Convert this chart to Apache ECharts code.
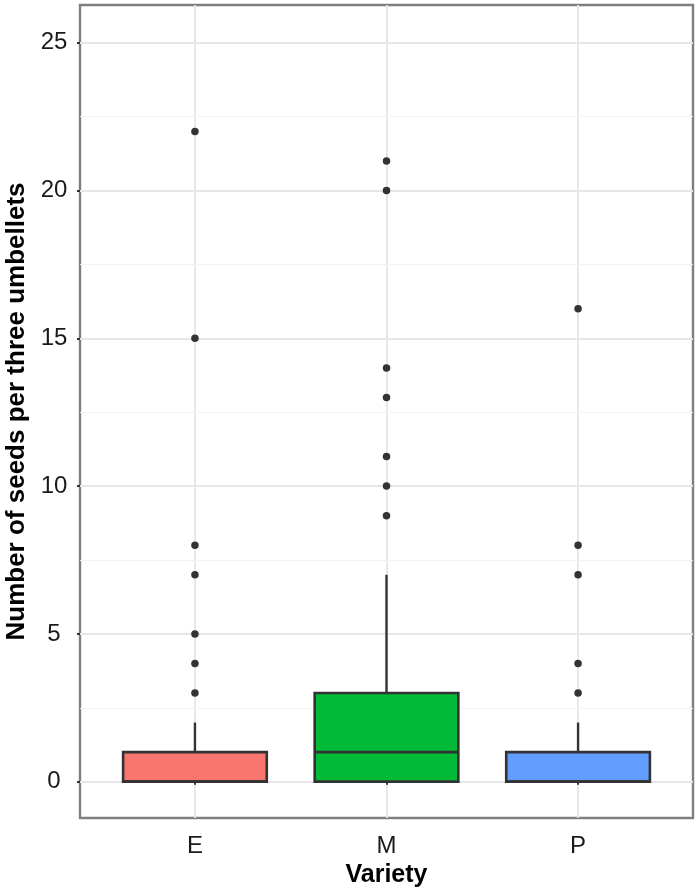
<!DOCTYPE html>
<html>
<head>
<meta charset="utf-8">
<script src="https://cdn.jsdelivr.net/npm/echarts@6/dist/echarts.min.js"></script>
<style>
html,body{margin:0;padding:0;background:#fff;}
#chart{width:700px;height:895px;}
</style>
</head>
<body>
<div id="chart"></div>
<script>
const categories = ['E', 'M', 'P'];
const boxMin = [0, 0, 0];
const boxQ1 = [0, 0, 0];
const boxMedian = [0, 1, 0];
const boxQ3 = [1, 3, 1];
const boxMax = [2, 7, 2];
const outliersE = [3, 4, 5, 7, 8, 15, 22];
const outliersM = [9, 10, 11, 13, 14, 20, 21];
const outliersP = [3, 4, 7, 8, 16];
const boxColors = ['#F8766D', '#00BA38', '#619CFF'];
const yTicks = [0, 5, 10, 15, 20, 25];
const yMinor = [2.5, 7.5, 12.5, 17.5, 22.5];
const xTicks = [1, 2, 3];

const outlierSets = [outliersE, outliersM, outliersP];
const outlierData = [];
outlierSets.forEach((arr, i) => arr.forEach(v => outlierData.push([i + 1, v])));

const boxData = categories.map((c, i) => [i + 1, boxMin[i], boxQ1[i], boxMedian[i], boxQ3[i], boxMax[i], i]);

const FONT = '"Liberation Sans", Arial, Helvetica, sans-serif';

const chart = echarts.init(document.getElementById('chart'), null, {renderer: 'canvas'});
chart.setOption({
  animation: false,
  backgroundColor: '#ffffff',
  grid: {
    left: 80, right: 7, top: 5, bottom: 77,
    outerBoundsMode: 'none',
    containLabel: false,
    show: true, borderColor: '#7f7f7f', borderWidth: 2.4, backgroundColor: 'transparent'
  },
  xAxis: {
    type: 'value',
    min: 0.4, max: 3.6,
    name: 'Variety',
    nameLocation: 'middle',
    nameGap: 42,
    nameTextStyle: {fontFamily: FONT, fontSize: 25, fontWeight: 'bold', color: '#000'},
    axisLine: {show: false},
    axisTick: {show: true, customValues: xTicks, length: 3, lineStyle: {color: '#333', width: 2}},
    axisLabel: {
      customValues: xTicks, margin: 16,
      fontFamily: FONT, fontSize: 24, color: '#1a1a1a',
      formatter: v => categories[Math.round(v) - 1] || ''
    },
    splitLine: {show: true, lineStyle: {color: '#e6e6e6', width: 1.8}}
  },
  yAxis: {
    type: 'value',
    min: -1.23, max: 26.28,
    name: 'Number of seeds per three umbellets',
    nameLocation: 'middle',
    nameGap: 50,
    nameTextStyle: {fontFamily: FONT, fontSize: 26, fontWeight: 'bold', color: '#000'},
    axisLine: {show: false},
    axisTick: {show: true, customValues: yTicks, length: 3, lineStyle: {color: '#333', width: 2}},
    axisLabel: {customValues: yTicks, margin: 26, align: 'center', fontFamily: FONT, fontSize: 24, color: '#1a1a1a'},
    splitLine: {show: true, lineStyle: {color: '#e6e6e6', width: 1.8}}
  },
  series: [
    {
      type: 'line',
      data: [],
      silent: true,
      z: 1,
      markLine: {
        silent: true,
        z: 1,
        symbol: 'none',
        label: {show: false},
        lineStyle: {color: '#f3f3f3', width: 1.2, type: 'solid'},
        data: yMinor.map(v => ({yAxis: v}))
      }
    },
    {
      type: 'custom',
      data: boxData,
      encode: {x: 0, y: [1, 2, 3, 4, 5]},
      z: 3,
      renderItem: function (params, api) {
        const x = api.value(0);
        const idx = api.value(6);
        const half = api.size([0.75, 0])[0] / 2;
        const pMin = api.coord([x, api.value(1)]);
        const pQ1 = api.coord([x, api.value(2)]);
        const pMed = api.coord([x, api.value(3)]);
        const pQ3 = api.coord([x, api.value(4)]);
        const pMax = api.coord([x, api.value(5)]);
        const stroke = '#333333';
        return {
          type: 'group',
          children: [
            {type: 'line', shape: {x1: pQ3[0], y1: pQ3[1], x2: pMax[0], y2: pMax[1]}, style: {stroke: stroke, lineWidth: 2.4}},
            {type: 'line', shape: {x1: pQ1[0], y1: pQ1[1], x2: pMin[0], y2: pMin[1]}, style: {stroke: stroke, lineWidth: 2.4}},
            {type: 'rect', shape: {x: pQ3[0] - half, y: pQ3[1], width: half * 2, height: pQ1[1] - pQ3[1]},
              style: {fill: boxColors[idx], stroke: stroke, lineWidth: 2.6}},
            {type: 'line', shape: {x1: pMed[0] - half, y1: pMed[1], x2: pMed[0] + half, y2: pMed[1]}, style: {stroke: stroke, lineWidth: 2.6}}
          ]
        };
      }
    },
    {
      type: 'scatter',
      data: outlierData,
      symbol: 'circle',
      symbolSize: 7.5,
      itemStyle: {color: '#333333', opacity: 1},
      z: 4
    }
  ]
});
</script>
</body>
</html>
